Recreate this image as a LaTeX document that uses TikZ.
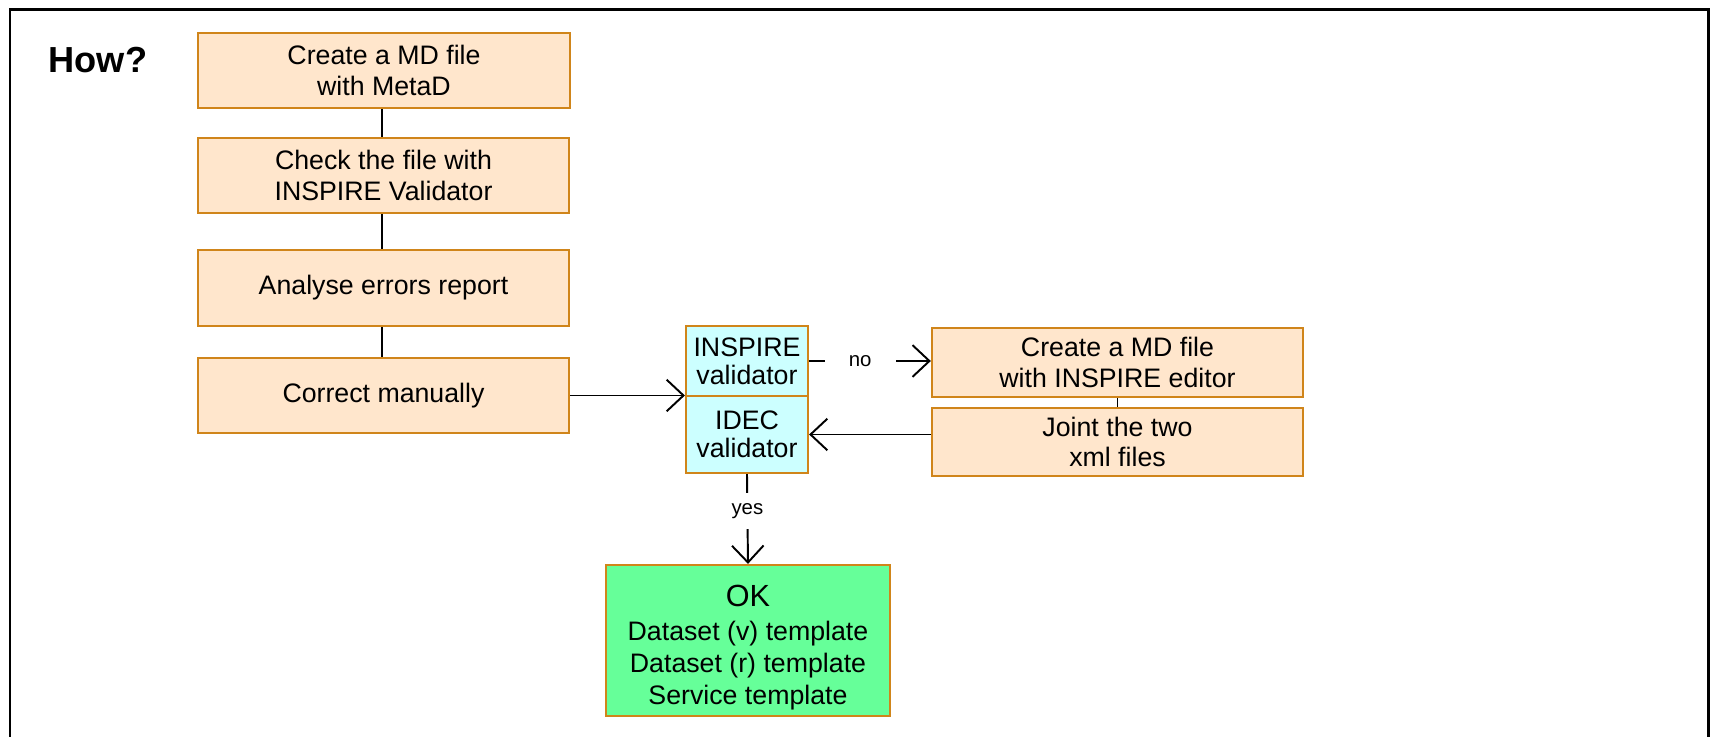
\documentclass[tikz,border=0pt]{standalone}
\usepackage{fontspec}
\setmainfont{Liberation Sans}
\usetikzlibrary{arrows.meta}
\definecolor{boxfill}{HTML}{FFE6CC}
\definecolor{boxline}{HTML}{D0851A}
\definecolor{valfill}{HTML}{CCFFFF}
\definecolor{okfill}{HTML}{66FF99}
\tikzset{
  stepbox/.style={draw=boxline, line width=0.6pt, fill=boxfill, align=center, inner sep=0pt,
    font=\fontsize{7.6}{8.6}\selectfont},
  valbox/.style={stepbox, fill=valfill, minimum width=1.22cm, font=\fontsize{7.6}{8}\selectfont},
  okbox/.style={stepbox, fill=okfill, font=\fontsize{7.6}{9}\selectfont},
  conn/.style={line width=0.55pt, black},
  arr/.style={conn, -{Straight Barb[length=4.8pt,width=9pt,line width=0.55pt]}},
  lbl/.style={font=\fontsize{5.8}{7}\selectfont, fill=white, inner sep=0pt}
}
\begin{document}
\begin{tikzpicture}[x=0.01cm,y=-0.01cm]
\useasboundingbox (0,0) rectangle (1714,737);
\draw[line width=0.85pt] (10,737) -- (10,10) -- (1708,10) -- (1708,737);
\node[font=\fontsize{10.3}{12}\selectfont\bfseries, inner sep=0pt] (how) at (98,60) {How?};

% left column
\node[stepbox, minimum width=3.72cm, minimum height=0.75cm] (b1) at (384,70.5) {Create a MD file\\with MetaD};
\node[stepbox, minimum width=3.71cm, minimum height=0.75cm] (b2) at (383.5,175.5) {Check the file with\\INSPIRE Validator};
\node[stepbox, minimum width=3.71cm, minimum height=0.76cm] (b3) at (383.5,288) {Analyse errors report};
\node[stepbox, minimum width=3.71cm, minimum height=0.75cm] (b4) at (383.5,395.5) {Correct manually};

% validators
\node[valbox, minimum height=0.70cm] (v1) at (747,361) {INSPIRE\\validator};
\node[valbox, minimum height=0.77cm] (v2) at (747,434.5) {IDEC\\validator};

% right column
\node[stepbox, minimum width=3.71cm, minimum height=0.69cm] (r1) at (1117.5,362.5) {Create a MD file\\with INSPIRE editor};
\node[stepbox, minimum width=3.71cm, minimum height=0.68cm] (r2) at (1117.5,442) {Joint the two\\xml files};

% result
\node[okbox, minimum width=2.84cm, minimum height=1.51cm] (ok) at (748,640.5)
  {\rule{0pt}{10pt}{\fontsize{8.7}{9}\selectfont OK}\\[0.7pt]Dataset (v) template\\Dataset (r) template\\Service template};

% connectors
\draw[conn] (b1.south -| 382,0) -- (b2.north -| 382,0);
\draw[conn] (b2.south -| 382,0) -- (b3.north -| 382,0);
\draw[conn] (b3.south -| 382,0) -- (b4.north -| 382,0);
\draw[arr] (b4.east) -- (b4.east -| v1.west);
\draw[arr] (v1.east) -- node[lbl, inner xsep=0.24cm, pos=0.42] {no} (v1.east -| r1.west);
\draw[conn] (r1.south) -- (r2.north);
\draw[arr] (r2.west |- v2.east) -- (v2.east);
\draw[arr] (v2.south) -- node[lbl, inner ysep=0.1cm, pos=0.41] {yes} (ok.north);
\end{tikzpicture}
\end{document}
